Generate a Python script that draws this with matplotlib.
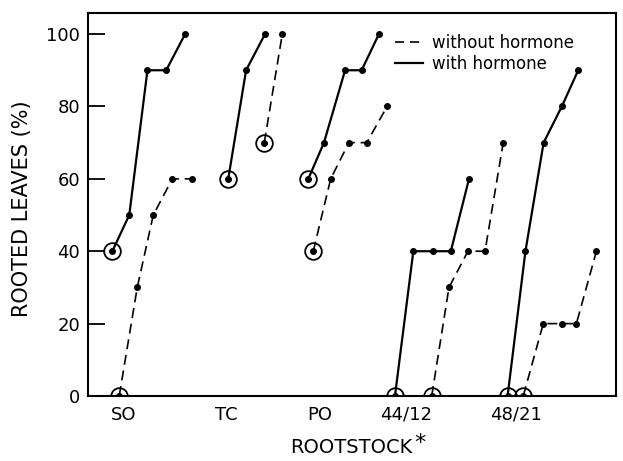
import matplotlib
matplotlib.use("Agg")
import matplotlib.pyplot as plt
from matplotlib.lines import Line2D

# ---- data (x in sampling-step units, y in % rooted leaves) ----
categories = ["SO", "TC", "PO", "44/12", "48/21"]
category_pos = [0.64, 6.29, 11.41, 16.14, 22.18]

with_x = [
    [0, 0.93, 1.93, 2.96, 4.0],
    [6.37, 7.35, 8.39],
    [10.77, 11.63, 12.79, 13.70, 14.65],
    [15.53, 16.54, 17.6, 18.6, 19.6],
    [21.72, 22.7, 23.7, 24.7, 25.6],
]
with_y = [
    [40, 50, 90, 90, 100],
    [60, 90, 100],
    [60, 70, 90, 90, 100],
    [0, 40, 40, 40, 60],
    [0, 40, 70, 80, 90],
]
without_x = [
    [0.38, 1.37, 2.25, 3.30, 4.36],
    [8.35, 9.34],
    [11.04, 12.0, 13.0, 13.98, 15.1],
    [17.55, 18.5, 19.54, 20.48, 21.48],
    [22.58, 23.68, 24.7, 25.5, 26.6],
]
without_y = [
    [0, 30, 50, 60, 60],
    [70, 100],
    [40, 60, 70, 70, 80],
    [0, 30, 40, 40, 70],
    [0, 20, 20, 20, 40],
]
yticks = [0, 20, 40, 60, 80, 100]

W, H = 623, 461
fig = plt.figure(figsize=(W / 100, H / 100), dpi=100)
L, R, T, B = 88.3, 615.7, 12.7, 396
ax = fig.add_axes([L / W, 1 - B / H, (R - L) / W, (B - T) / H])

dash = (0, (6, 3.5))
for xs, ys in zip(without_x, without_y):
    ax.plot(xs, ys, color="black", lw=1.2, linestyle=dash, marker="o",
            ms=4, mfc="black", mec="black", zorder=3)
    ax.plot(xs[0], ys[0], marker="o", ms=12, mfc="none", mec="black",
            mew=1.3, zorder=4)
for xs, ys in zip(with_x, with_y):
    ax.plot(xs, ys, color="black", lw=1.6, linestyle="-", marker="o",
            ms=4, mfc="black", mec="black", zorder=3)
    ax.plot(xs[0], ys[0], marker="o", ms=12, mfc="none", mec="black",
            mew=1.3, zorder=4)

ax.set_xlim(-1.32, 27.66)
ax.set_ylim(0, 105.9)
ax.set_yticks(yticks)
ax.set_yticklabels([str(v) for v in yticks], fontsize=13)
ax.set_xticks(category_pos)
ax.set_xticklabels(categories, fontsize=13)
ax.tick_params(axis="y", direction="in", length=12, width=1.3, pad=6)
ax.tick_params(axis="x", length=0, pad=7)
for s in ax.spines.values():
    s.set_linewidth(1.5)

handles = [
    Line2D([], [], color="black", lw=1.2, linestyle=(0, (5.5, 3.5))),
    Line2D([], [], color="black", lw=1.6, linestyle="-"),
]
ax.legend(handles, ["without hormone", "with hormone"], loc="upper left",
          bbox_to_anchor=(395 / W, 1 - 34 / H), bbox_transform=fig.transFigure,
          frameon=False, fontsize=12, handlelength=1.7, handletextpad=0.5,
          labelspacing=0.2, borderpad=0, borderaxespad=0)

fig.text(22 / W, 1 - 209 / H, "ROOTED LEAVES (%)", rotation=90,
         ha="center", va="center", fontsize=15)
fig.text(290 / W, 1 - 447 / H, "ROOTSTOCK", ha="left", va="center",
         fontsize=14)
fig.text(414 / W, 1 - 443 / H, "*", ha="left", va="center", fontsize=16)

fig.savefig("out.png", dpi=100)
